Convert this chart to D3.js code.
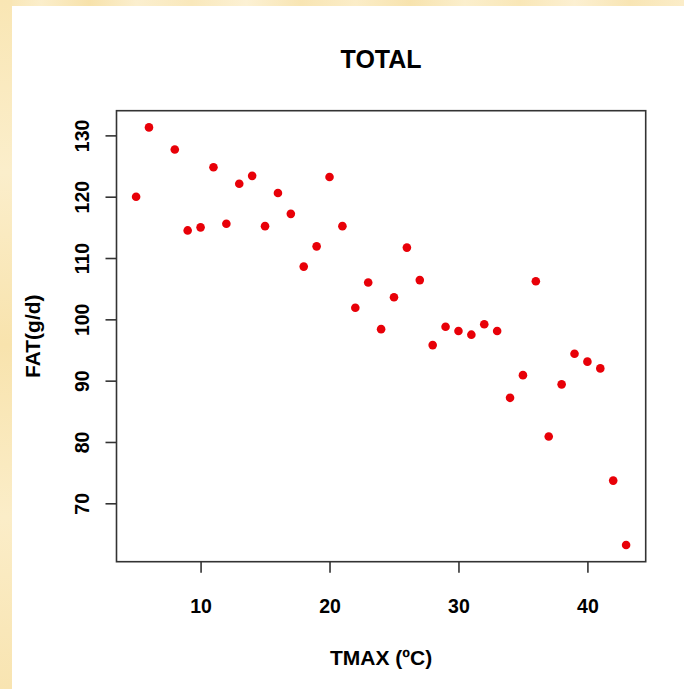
<!DOCTYPE html>
<html>
<head>
<meta charset="utf-8">
<script src="https://cdn.jsdelivr.net/npm/d3@7"></script>
<style>
  html, body { margin: 0; padding: 0; background: #fff; }
  svg { display: block; }
  text { font-family: "Liberation Sans", Arial, sans-serif; font-weight: bold; fill: #000; }
</style>
</head>
<body>
<svg id="chart" width="684" height="689"></svg>
<script>
// Maximum temperature (ºC) and total fat intake (g/d)
const tmax = [5, 6, 8, 9, 10, 11, 12, 13, 14, 15, 16, 17, 18, 19, 20, 21, 22, 23, 24,
              25, 26, 27, 28, 29, 30, 31, 32, 33, 34, 35, 36, 37, 38, 39, 40, 41, 42, 43];
const fat = [120.0, 131.3, 127.7, 114.5, 115.0, 124.8, 115.6, 122.1, 123.4, 115.2, 120.6, 117.2, 108.6, 111.9, 123.2, 115.2, 101.9, 106.0, 98.4,
             103.6, 111.7, 106.4, 95.8, 98.8, 98.1, 97.5, 99.2, 98.1, 87.2, 90.9, 106.2, 80.9, 89.4, 94.4, 93.1, 92.0, 73.7, 63.2];
const xTicks = [10, 20, 30, 40];
const yTicks = [70, 80, 90, 100, 110, 120, 130];
const title = "TOTAL";
const xTitle = "TMAX (ºC)";
const yTitle = "FAT(g/d)";

const svg = d3.select("#chart");
const W = 684, H = 689;

// Cream slide backdrop with soft vertical streaks, and the white panel on top
const defs = svg.append("defs");
const grad = defs.append("linearGradient").attr("id", "streaks")
  .attr("x1", 0).attr("x2", 1).attr("y1", 0).attr("y2", 0);
const streakStops = [
  [0, "#f8e4b0"], [0.06, "#fbeecb"], [0.13, "#f7e2ab"], [0.2, "#fbefcf"], [0.28, "#f9e8bb"],
  [0.36, "#fcf1d4"], [0.44, "#f8e5b3"], [0.52, "#fbedc8"], [0.6, "#f7e3ae"], [0.68, "#fbefcd"],
  [0.76, "#f9e7b7"], [0.84, "#fcf0d2"], [0.92, "#f8e5b4"], [1, "#fbedc9"]
];
streakStops.forEach(([o, c]) => grad.append("stop").attr("offset", o).attr("stop-color", c));
svg.append("rect").attr("width", W).attr("height", H).attr("fill", "url(#streaks)");
const side = defs.append("linearGradient").attr("id", "sideStreak")
  .attr("x1", 0).attr("x2", 0).attr("y1", 0).attr("y2", 1);
[[0, "#f9e6b4"], [0.25, "#fbeecb"], [0.5, "#f8e3ad"], [0.75, "#fbedc8"], [1, "#f8e4b1"]]
  .forEach(([o, c]) => side.append("stop").attr("offset", o).attr("stop-color", c));
svg.append("rect").attr("x", 0).attr("y", 0).attr("width", 12).attr("height", H).attr("fill", "url(#sideStreak)");
svg.append("rect").attr("x", 12).attr("y", 6).attr("width", W - 12).attr("height", H - 6).attr("fill", "#ffffff");

// Plot region
const plot = { left: 116.5, right: 645.7, top: 110.7, bottom: 561.7 };

// Ranges padded by 4% on each side
function padded(vals) {
  const [lo, hi] = d3.extent(vals);
  const p = (hi - lo) * 0.04;
  return [lo - p, hi + p];
}
const x = d3.scaleLinear().domain(padded(tmax)).range([plot.left, plot.right]);
const y = d3.scaleLinear().domain(padded(fat)).range([plot.bottom, plot.top]);

const axisColor = "#333";
const tickFont = 19.5;

// Bottom axis
const xAxis = svg.append("g")
  .attr("transform", `translate(0,${plot.bottom})`)
  .call(d3.axisBottom(x).tickValues(xTicks).tickSize(11).tickPadding(26).tickFormat(d3.format("d")));
xAxis.select(".domain").remove();
xAxis.selectAll(".tick line").attr("stroke", axisColor).attr("stroke-width", 1.6);
xAxis.selectAll(".tick text").attr("font-size", tickFont).attr("font-family", "Liberation Sans, Arial, sans-serif")
  .attr("font-weight", "bold").attr("fill", "#000");

// Left axis with labels turned parallel to the axis
const yAxis = svg.append("g")
  .attr("transform", `translate(${plot.left},0)`)
  .call(d3.axisLeft(y).tickValues(yTicks).tickSize(11).tickFormat(d3.format("d")));
yAxis.select(".domain").remove();
yAxis.selectAll(".tick line").attr("stroke", axisColor).attr("stroke-width", 1.6);
yAxis.selectAll(".tick text")
  .attr("font-size", tickFont).attr("font-family", "Liberation Sans, Arial, sans-serif")
  .attr("font-weight", "bold").attr("fill", "#000")
  .attr("x", null).attr("dy", null)
  .attr("text-anchor", "middle")
  .attr("transform", "translate(-34.5,0) rotate(-90)")
  .attr("dominant-baseline", "central");

// Frame around the plot region
svg.append("rect")
  .attr("x", plot.left).attr("y", plot.top)
  .attr("width", plot.right - plot.left).attr("height", plot.bottom - plot.top)
  .attr("fill", "none").attr("stroke", axisColor).attr("stroke-width", 1.6);

// Points
svg.append("g").selectAll("circle")
  .data(tmax.map((t, i) => ({ t, f: fat[i] })))
  .join("circle")
  .attr("cx", d => x(d.t))
  .attr("cy", d => y(d.f))
  .attr("r", 4.3)
  .attr("fill", "#e80008");

// Titles
svg.append("text")
  .attr("x", (plot.left + plot.right) / 2).attr("y", 68)
  .attr("text-anchor", "middle").attr("font-size", 25)
  .text(title);

svg.append("text")
  .attr("x", (plot.left + plot.right) / 2).attr("y", 665)
  .attr("text-anchor", "middle").attr("font-size", 21)
  .text(xTitle);

svg.append("text")
  .attr("transform", `translate(40,${(plot.top + plot.bottom) / 2}) rotate(-90)`)
  .attr("text-anchor", "middle").attr("font-size", 21)
  .text(yTitle);
</script>
</body>
</html>
